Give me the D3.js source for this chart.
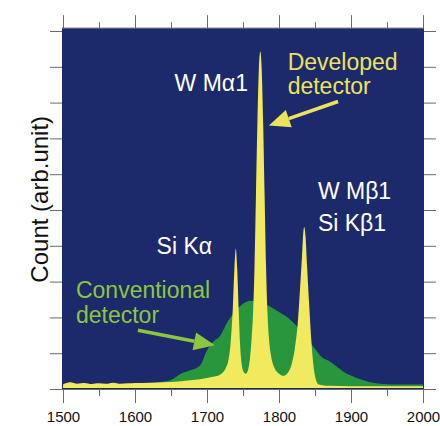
<!DOCTYPE html>
<html>
<head>
<meta charset="utf-8">
<script src="https://cdn.jsdelivr.net/npm/d3@7"></script>
<style>
  body { margin: 0; background: #fff; }
  text { font-family: "Liberation Sans", Arial, Helvetica, sans-serif; }
</style>
</head>
<body>
<div id="chart"></div>
<script>
// Data (energy channel, count in arb. units)
const xMajor = [1500, 1600, 1700, 1800, 1900, 2000]
const xMinor = [1550, 1650, 1750, 1850, 1950]
const yTicks = [0, 1, 2, 3, 4, 5, 6, 7, 8, 9, 10]

// developed detector (yellow)
const developed = [
  [1500, 0.10], [1510, 0.16], [1520, 0.12], [1530, 0.14], [1540, 0.11],
  [1550, 0.13], [1560, 0.12], [1570, 0.15], [1580, 0.12], [1590, 0.13],
  [1600, 0.14], [1620, 0.15], [1640, 0.16], [1660, 0.18], [1680, 0.22],
  [1700, 0.28], [1710, 0.32], [1720, 0.40], [1726, 0.55], [1730, 0.80],
  [1733, 1.30], [1736, 2.30], [1738, 3.30], [1740, 3.90], [1742, 3.30],
  [1744, 2.20], [1746, 1.20], [1748, 0.70], [1751, 0.45], [1754, 0.40],
  [1757, 0.50], [1760, 0.90], [1762, 1.40], [1764, 2.10], [1766, 3.40],
  [1768, 5.40], [1770, 7.40], [1772, 8.90], [1774, 9.40], [1776, 8.90],
  [1778, 7.40], [1780, 5.40], [1782, 3.40], [1784, 2.10], [1786, 1.40],
  [1789, 0.90], [1794, 0.55], [1800, 0.40], [1806, 0.34], [1812, 0.42],
  [1818, 0.70], [1822, 1.10], [1826, 1.80], [1829, 2.70], [1832, 3.70],
  [1834, 4.40], [1835, 4.50], [1837, 4.20], [1839, 3.40], [1842, 2.30],
  [1845, 1.30], [1848, 0.60], [1851, 0.25], [1855, 0.10], [1870, 0.06],
  [1900, 0.05], [1950, 0.05], [2000, 0.05]
]

// conventional detector (green)
const conventional = [
  [1500, 0.05], [1550, 0.06], [1600, 0.08], [1620, 0.12], [1640, 0.18],
  [1650, 0.22], [1663, 0.39], [1675, 0.48], [1690, 0.62], [1700, 1.05],
  [1708, 1.28], [1718, 1.45], [1728, 1.83], [1740, 2.15], [1750, 2.35],
  [1760, 2.44], [1770, 2.42], [1780, 2.35], [1790, 2.25], [1800, 2.12],
  [1815, 1.92], [1830, 1.60], [1847, 1.17], [1860, 0.85], [1870, 0.75],
  [1880, 0.60], [1890, 0.45], [1900, 0.35], [1912, 0.25], [1925, 0.17],
  [1940, 0.12], [1960, 0.10], [1980, 0.10], [2000, 0.10]
]

const peakLabels = [
  {lines: ["W M\u03b11"], x: 1655, y: 8.33, color: "#ffffff"},
  {lines: ["Si K\u03b1"], x: 1630, y: 3.78, color: "#ffffff"},
  {lines: ["W M\u03b21", "Si K\u03b21"], x: 1854, y: 5.31, color: "#ffffff", lh: 32},
  {lines: ["Developed", "detector"], x: 1812, y: 8.92, color: "#ece35c", lh: 24},
  {lines: ["Conventional", "detector"], x: 1518, y: 2.53, color: "#8cc63f", lh: 25}
]

const arrows = [
  {from: [1882, 8.03], to: [1786, 7.36], color: "#ece35c"},
  {from: [1604, 1.64], to: [1711, 1.22], color: "#8cc63f"}
]

// Layout
const width = 440
const height = 426

const x = d3.scaleLinear().domain([1500, 2000]).range([63, 423])
const y = d3.scaleLinear().domain([0, 10]).range([389, 31])

const svg = d3.select("#chart")
    .append("svg")
    .attr("width", width)
    .attr("height", height)

// plot background
svg.append("rect")
    .attr("x", x(1500) - 1)
    .attr("y", y(10.08))
    .attr("width", x(2000) - x(1500) + 2)
    .attr("height", y(0) - y(10.08))
    .attr("fill", "#1c2a6c")

// areas
const area = d3.area()
    .x(d => x(d[0]))
    .y0(y(0) - 1)
    .y1(d => y(d[1]) - 1)
    .curve(d3.curveMonotoneX)

svg.append("path")
    .datum(conventional)
    .attr("d", area)
    .attr("fill", "#27963c")

svg.append("path")
    .datum(developed)
    .attr("d", area)
    .attr("fill", "#f1e95e")

// axes
const tickColor = "#6a6a6a"

function styleAxis(g) {
    g.select(".domain").remove()
    g.selectAll(".tick line").attr("stroke", tickColor)
    g.selectAll(".tick text")
        .attr("fill", "#111")
        .style("font-size", "15px")
        .style("font-family", "'Liberation Sans', Arial, sans-serif")
}

svg.append("g")
    .attr("transform", `translate(0, ${y(0)})`)
    .call(d3.axisBottom(x).tickValues(xMajor).tickSize(14).tickPadding(8).tickFormat(d3.format("d")))
    .call(styleAxis)

svg.append("g")
    .attr("transform", `translate(0, ${y(0)})`)
    .call(d3.axisBottom(x).tickValues(xMinor).tickSize(7).tickFormat(""))
    .call(styleAxis)

svg.append("g")
    .attr("transform", `translate(0, ${y(10.08)})`)
    .call(d3.axisTop(x).tickValues(xMajor).tickSize(13).tickFormat(""))
    .call(styleAxis)

svg.append("g")
    .attr("transform", `translate(0, ${y(10.08)})`)
    .call(d3.axisTop(x).tickValues(xMinor).tickSize(6).tickFormat(""))
    .call(styleAxis)

svg.append("g")
    .attr("transform", `translate(${x(1500) - 1}, 0)`)
    .call(d3.axisLeft(y).tickValues(yTicks).tickSize(12).tickFormat(""))
    .call(styleAxis)

svg.append("g")
    .attr("transform", `translate(${x(2000) + 1}, 0)`)
    .call(d3.axisRight(y).tickValues(yTicks).tickSize(12).tickFormat(""))
    .call(styleAxis)

// frame lines
svg.append("line")
    .attr("x1", x(1500) - 13).attr("x2", x(2000) + 13)
    .attr("y1", y(0) + 0.5).attr("y2", y(0) + 0.5)
    .attr("stroke", tickColor)
svg.append("line")
    .attr("x1", x(1500) - 1).attr("x2", x(2000) + 1)
    .attr("y1", y(10.08)).attr("y2", y(10.08))
    .attr("stroke", tickColor)

// y label
svg.append("text")
    .attr("transform", `translate(48, ${y(5.3)}) rotate(-90)`)
    .attr("text-anchor", "middle")
    .style("font-size", "24px")
    .attr("fill", "#111")
    .text("Count (arb.unit)")

// annotations
peakLabels.forEach(l => {
    const t = svg.append("text")
        .attr("x", x(l.x))
        .attr("y", y(l.y))
        .attr("fill", l.color)
        .style("font-size", "23px")
    l.lines.forEach((s, i) => {
        t.append("tspan")
            .attr("x", x(l.x))
            .attr("y", y(l.y) + i * (l.lh || 0))
            .text(s)
    })
})

arrows.forEach(a => {
    const x1 = x(a.from[0]), y1 = y(a.from[1])
    const x2 = x(a.to[0]), y2 = y(a.to[1])
    const ang = Math.atan2(y2 - y1, x2 - x1)
    const headLen = 21, headW = 9
    const bx = x2 - headLen * Math.cos(ang)
    const by = y2 - headLen * Math.sin(ang)
    svg.append("line")
        .attr("x1", x1).attr("y1", y1)
        .attr("x2", bx).attr("y2", by)
        .attr("stroke", a.color)
        .attr("stroke-width", 3.5)
    svg.append("polygon")
        .attr("points", [
            [x2, y2],
            [bx + headW * Math.sin(ang), by - headW * Math.cos(ang)],
            [bx - headW * Math.sin(ang), by + headW * Math.cos(ang)]
        ].map(p => p.join(",")).join(" "))
        .attr("fill", a.color)
})
</script>
</body>
</html>
